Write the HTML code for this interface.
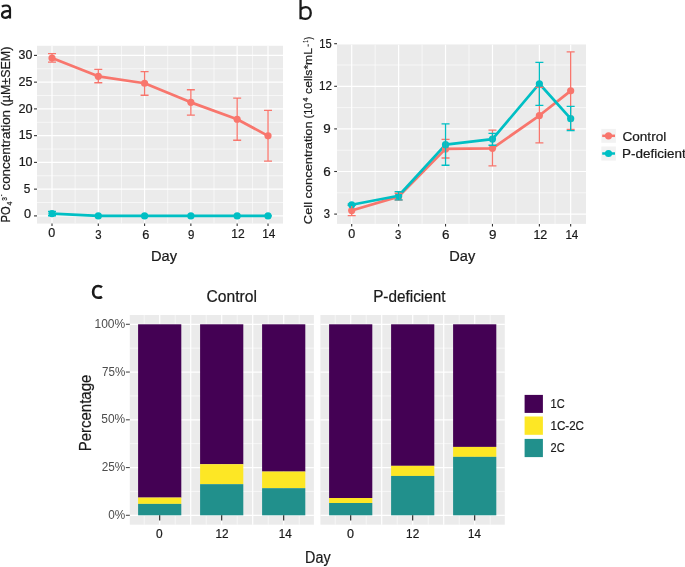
<!DOCTYPE html>
<html><head><meta charset="utf-8"><style>
html,body{margin:0;padding:0;background:#fff;width:685px;height:567px;overflow:hidden;}
svg{display:block;will-change:transform;}
text{font-family:"Liberation Sans", sans-serif;}
</style></head><body>
<svg width="685" height="567" viewBox="0 0 685 567">
<defs>
<clipPath id="ca"><rect x="37" y="45.8" width="246" height="177.8"/></clipPath>
<clipPath id="cb"><rect x="337" y="44.4" width="249" height="179.5"/></clipPath>
</defs>
<rect width="685" height="567" fill="#fff"/>
<rect x="37" y="45.8" width="246" height="177.8" fill="#EBEBEB"/>
<g clip-path="url(#ca)">
<line x1="37" x2="283" y1="202.53" y2="202.53" stroke="#fff" stroke-width="0.6"/>
<line x1="37" x2="283" y1="175.77" y2="175.77" stroke="#fff" stroke-width="0.6"/>
<line x1="37" x2="283" y1="149.03" y2="149.03" stroke="#fff" stroke-width="0.6"/>
<line x1="37" x2="283" y1="122.28" y2="122.28" stroke="#fff" stroke-width="0.6"/>
<line x1="37" x2="283" y1="95.53" y2="95.53" stroke="#fff" stroke-width="0.6"/>
<line x1="37" x2="283" y1="68.78" y2="68.78" stroke="#fff" stroke-width="0.6"/>
<line y1="45.8" y2="223.6" x1="75.14" x2="75.14" stroke="#fff" stroke-width="0.6"/>
<line y1="45.8" y2="223.6" x1="121.44" x2="121.44" stroke="#fff" stroke-width="0.6"/>
<line y1="45.8" y2="223.6" x1="167.72" x2="167.72" stroke="#fff" stroke-width="0.6"/>
<line y1="45.8" y2="223.6" x1="214.01" x2="214.01" stroke="#fff" stroke-width="0.6"/>
<line y1="45.8" y2="223.6" x1="252.59" x2="252.59" stroke="#fff" stroke-width="0.6"/>
<line x1="37" x2="283" y1="215.9" y2="215.9" stroke="#fff" stroke-width="1.2"/>
<line x1="37" x2="283" y1="189.15" y2="189.15" stroke="#fff" stroke-width="1.2"/>
<line x1="37" x2="283" y1="162.4" y2="162.4" stroke="#fff" stroke-width="1.2"/>
<line x1="37" x2="283" y1="135.65" y2="135.65" stroke="#fff" stroke-width="1.2"/>
<line x1="37" x2="283" y1="108.9" y2="108.9" stroke="#fff" stroke-width="1.2"/>
<line x1="37" x2="283" y1="82.15" y2="82.15" stroke="#fff" stroke-width="1.2"/>
<line x1="37" x2="283" y1="55.4" y2="55.4" stroke="#fff" stroke-width="1.2"/>
<line y1="45.8" y2="223.6" x1="52" x2="52" stroke="#fff" stroke-width="1.2"/>
<line y1="45.8" y2="223.6" x1="98.29" x2="98.29" stroke="#fff" stroke-width="1.2"/>
<line y1="45.8" y2="223.6" x1="144.58" x2="144.58" stroke="#fff" stroke-width="1.2"/>
<line y1="45.8" y2="223.6" x1="190.87" x2="190.87" stroke="#fff" stroke-width="1.2"/>
<line y1="45.8" y2="223.6" x1="237.16" x2="237.16" stroke="#fff" stroke-width="1.2"/>
<line y1="45.8" y2="223.6" x1="268.02" x2="268.02" stroke="#fff" stroke-width="1.2"/>
<polyline points="52,58.02 98.29,76.32 144.58,83.27 190.87,102.37 237.16,119.23 268.02,135.86" fill="none" stroke="#F8766D" stroke-width="2.7" stroke-linejoin="round"/><polyline points="52,213.6 98.29,215.9 144.58,215.9 190.87,215.9 237.16,215.9 268.02,215.9" fill="none" stroke="#00BFC4" stroke-width="2.7" stroke-linejoin="round"/><circle cx="52" cy="58.02" r="3.6" fill="#F8766D"/><circle cx="98.29" cy="76.32" r="3.6" fill="#F8766D"/><circle cx="144.58" cy="83.27" r="3.6" fill="#F8766D"/><circle cx="190.87" cy="102.37" r="3.6" fill="#F8766D"/><circle cx="237.16" cy="119.23" r="3.6" fill="#F8766D"/><circle cx="268.02" cy="135.86" r="3.6" fill="#F8766D"/><circle cx="52" cy="213.6" r="3.6" fill="#00BFC4"/><circle cx="98.29" cy="215.9" r="3.6" fill="#00BFC4"/><circle cx="144.58" cy="215.9" r="3.6" fill="#00BFC4"/><circle cx="190.87" cy="215.9" r="3.6" fill="#00BFC4"/><circle cx="237.16" cy="215.9" r="3.6" fill="#00BFC4"/><circle cx="268.02" cy="215.9" r="3.6" fill="#00BFC4"/><path d="M48 53.58H56M52 53.58V62.09M48 62.09H56" stroke="#F8766D" stroke-width="1.3" fill="none"/><path d="M94.29 69.31H102.29M98.29 69.31V82.74M94.29 82.74H102.29" stroke="#F8766D" stroke-width="1.3" fill="none"/><path d="M140.58 71.61H148.58M144.58 71.61V95.26M140.58 95.26H148.58" stroke="#F8766D" stroke-width="1.3" fill="none"/><path d="M186.87 89.75H194.87M190.87 89.75V115.21M186.87 115.21H194.87" stroke="#F8766D" stroke-width="1.3" fill="none"/><path d="M233.16 98.2H241.16M237.16 98.2V140.25M233.16 140.25H241.16" stroke="#F8766D" stroke-width="1.3" fill="none"/><path d="M264.02 110.29H272.02M268.02 110.29V161.22M264.02 161.22H272.02" stroke="#F8766D" stroke-width="1.3" fill="none"/><path d="M48 211.46H56M52 211.46V215.74M48 215.74H56" stroke="#00BFC4" stroke-width="1.3" fill="none"/><path d="M94.29 215.9H102.29M98.29 215.9V215.9M94.29 215.9H102.29" stroke="#00BFC4" stroke-width="1.3" fill="none"/><path d="M140.58 215.9H148.58M144.58 215.9V215.9M140.58 215.9H148.58" stroke="#00BFC4" stroke-width="1.3" fill="none"/><path d="M186.87 215.9H194.87M190.87 215.9V215.9M186.87 215.9H194.87" stroke="#00BFC4" stroke-width="1.3" fill="none"/><path d="M233.16 215.9H241.16M237.16 215.9V215.9M233.16 215.9H241.16" stroke="#00BFC4" stroke-width="1.3" fill="none"/><path d="M264.02 215.9H272.02M268.02 215.9V215.9M264.02 215.9H272.02" stroke="#00BFC4" stroke-width="1.3" fill="none"/>
</g>
<line x1="34" x2="37" y1="215.9" y2="215.9" stroke="#333333" stroke-width="1.1"/>
<line x1="34" x2="37" y1="189.15" y2="189.15" stroke="#333333" stroke-width="1.1"/>
<line x1="34" x2="37" y1="162.4" y2="162.4" stroke="#333333" stroke-width="1.1"/>
<line x1="34" x2="37" y1="135.65" y2="135.65" stroke="#333333" stroke-width="1.1"/>
<line x1="34" x2="37" y1="108.9" y2="108.9" stroke="#333333" stroke-width="1.1"/>
<line x1="34" x2="37" y1="82.15" y2="82.15" stroke="#333333" stroke-width="1.1"/>
<line x1="34" x2="37" y1="55.4" y2="55.4" stroke="#333333" stroke-width="1.1"/>
<line y1="223.6" y2="226" x1="52" x2="52" stroke="#333333" stroke-width="1.1"/>
<line y1="223.6" y2="226" x1="98.29" x2="98.29" stroke="#333333" stroke-width="1.1"/>
<line y1="223.6" y2="226" x1="144.58" x2="144.58" stroke="#333333" stroke-width="1.1"/>
<line y1="223.6" y2="226" x1="190.87" x2="190.87" stroke="#333333" stroke-width="1.1"/>
<line y1="223.6" y2="226" x1="237.16" x2="237.16" stroke="#333333" stroke-width="1.1"/>
<line y1="223.6" y2="226" x1="268.02" x2="268.02" stroke="#333333" stroke-width="1.1"/>
<text x="18.63" y="59.1" font-size="12.3" fill="#1a1a1a" font-weight="normal" textLength="13.75" lengthAdjust="spacingAndGlyphs" stroke="#1a1a1a" stroke-width="0.22">30</text>
<text x="18.47" y="86" font-size="12.3" fill="#1a1a1a" font-weight="normal" textLength="13.96" lengthAdjust="spacingAndGlyphs" stroke="#1a1a1a" stroke-width="0.22">25</text>
<text x="18.46" y="112.6" font-size="12.3" fill="#1a1a1a" font-weight="normal" textLength="14.14" lengthAdjust="spacingAndGlyphs" stroke="#1a1a1a" stroke-width="0.22">20</text>
<text x="18.66" y="139.4" font-size="12.3" fill="#1a1a1a" font-weight="normal" textLength="13.76" lengthAdjust="spacingAndGlyphs" stroke="#1a1a1a" stroke-width="0.22">15</text>
<text x="18.65" y="165.6" font-size="12.3" fill="#1a1a1a" font-weight="normal" textLength="13.94" lengthAdjust="spacingAndGlyphs" stroke="#1a1a1a" stroke-width="0.22">10</text>
<text x="23.83" y="192.7" font-size="12.3" fill="#1a1a1a" font-weight="normal" textLength="6.57" lengthAdjust="spacingAndGlyphs" stroke="#1a1a1a" stroke-width="0.22">5</text>
<text x="23.9" y="218.3" font-size="12.3" fill="#1a1a1a" font-weight="normal" textLength="7.1" lengthAdjust="spacingAndGlyphs" stroke="#1a1a1a" stroke-width="0.22">0</text>
<text x="48.31" y="236.7" font-size="12.3" fill="#1a1a1a" font-weight="normal" textLength="6.98" lengthAdjust="spacingAndGlyphs" stroke="#1a1a1a" stroke-width="0.22">0</text>
<text x="95.17" y="239" font-size="12.3" fill="#1a1a1a" font-weight="normal" textLength="6.33" lengthAdjust="spacingAndGlyphs" stroke="#1a1a1a" stroke-width="0.22">3</text>
<text x="142.35" y="239" font-size="12.3" fill="#1a1a1a" font-weight="normal" textLength="7.11" lengthAdjust="spacingAndGlyphs" stroke="#1a1a1a" stroke-width="0.22">6</text>
<text x="187.96" y="239.1" font-size="12.3" fill="#1a1a1a" font-weight="normal" textLength="6.38" lengthAdjust="spacingAndGlyphs" stroke="#1a1a1a" stroke-width="0.22">9</text>
<text x="231.18" y="237.8" font-size="12.3" fill="#1a1a1a" font-weight="normal" textLength="13.43" lengthAdjust="spacingAndGlyphs" stroke="#1a1a1a" stroke-width="0.22">12</text>
<text x="262.3" y="237.8" font-size="12.3" fill="#1a1a1a" font-weight="normal" textLength="13.15" lengthAdjust="spacingAndGlyphs" stroke="#1a1a1a" stroke-width="0.22">14</text>
<text x="151" y="261" font-size="15.3" fill="#1a1a1a" font-weight="normal" textLength="26.03" lengthAdjust="spacingAndGlyphs" stroke="#1a1a1a" stroke-width="0.22">Day</text>
<path d="M1.9 6.7C3.1 5.8 4.6 5.5 6.2 5.5C8.8 5.5 10 6.8 10 9.2V18.5M10 10.8C6 10.8 2 11.5 2 14.8C2 16.7 3.3 17.8 5.2 17.8C7.3 17.8 9 16.8 10 15.2" fill="none" stroke="#1a1a1a" stroke-width="2.2"/>
<rect x="337" y="44.4" width="249" height="179.5" fill="#EBEBEB"/>
<g clip-path="url(#cb)">
<line x1="337" x2="586" y1="192.8" y2="192.8" stroke="#fff" stroke-width="0.6"/>
<line x1="337" x2="586" y1="150.2" y2="150.2" stroke="#fff" stroke-width="0.6"/>
<line x1="337" x2="586" y1="107.6" y2="107.6" stroke="#fff" stroke-width="0.6"/>
<line x1="337" x2="586" y1="65" y2="65" stroke="#fff" stroke-width="0.6"/>
<line y1="44.4" y2="223.9" x1="375.16" x2="375.16" stroke="#fff" stroke-width="0.6"/>
<line y1="44.4" y2="223.9" x1="422.08" x2="422.08" stroke="#fff" stroke-width="0.6"/>
<line y1="44.4" y2="223.9" x1="469" x2="469" stroke="#fff" stroke-width="0.6"/>
<line y1="44.4" y2="223.9" x1="515.92" x2="515.92" stroke="#fff" stroke-width="0.6"/>
<line y1="44.4" y2="223.9" x1="555.02" x2="555.02" stroke="#fff" stroke-width="0.6"/>
<line x1="337" x2="586" y1="214.1" y2="214.1" stroke="#fff" stroke-width="1.2"/>
<line x1="337" x2="586" y1="171.5" y2="171.5" stroke="#fff" stroke-width="1.2"/>
<line x1="337" x2="586" y1="128.9" y2="128.9" stroke="#fff" stroke-width="1.2"/>
<line x1="337" x2="586" y1="86.3" y2="86.3" stroke="#fff" stroke-width="1.2"/>
<line x1="337" x2="586" y1="43.7" y2="43.7" stroke="#fff" stroke-width="1.2"/>
<line y1="44.4" y2="223.9" x1="351.7" x2="351.7" stroke="#fff" stroke-width="1.2"/>
<line y1="44.4" y2="223.9" x1="398.62" x2="398.62" stroke="#fff" stroke-width="1.2"/>
<line y1="44.4" y2="223.9" x1="445.54" x2="445.54" stroke="#fff" stroke-width="1.2"/>
<line y1="44.4" y2="223.9" x1="492.46" x2="492.46" stroke="#fff" stroke-width="1.2"/>
<line y1="44.4" y2="223.9" x1="539.38" x2="539.38" stroke="#fff" stroke-width="1.2"/>
<line y1="44.4" y2="223.9" x1="570.66" x2="570.66" stroke="#fff" stroke-width="1.2"/>
<polyline points="351.7,210.55 398.62,196.63 445.54,148.92 492.46,148.35 539.38,115.55 570.66,90.84" fill="none" stroke="#F8766D" stroke-width="2.7" stroke-linejoin="round"/><polyline points="351.7,204.73 398.62,195.78 445.54,144.66 492.46,139.12 539.38,83.74 570.66,118.68" fill="none" stroke="#00BFC4" stroke-width="2.7" stroke-linejoin="round"/><circle cx="351.7" cy="210.55" r="3.6" fill="#F8766D"/><circle cx="398.62" cy="196.63" r="3.6" fill="#F8766D"/><circle cx="445.54" cy="148.92" r="3.6" fill="#F8766D"/><circle cx="492.46" cy="148.35" r="3.6" fill="#F8766D"/><circle cx="539.38" cy="115.55" r="3.6" fill="#F8766D"/><circle cx="570.66" cy="90.84" r="3.6" fill="#F8766D"/><circle cx="351.7" cy="204.73" r="3.6" fill="#00BFC4"/><circle cx="398.62" cy="195.78" r="3.6" fill="#00BFC4"/><circle cx="445.54" cy="144.66" r="3.6" fill="#00BFC4"/><circle cx="492.46" cy="139.12" r="3.6" fill="#00BFC4"/><circle cx="539.38" cy="83.74" r="3.6" fill="#00BFC4"/><circle cx="570.66" cy="118.68" r="3.6" fill="#00BFC4"/><path d="M347.7 205.44H355.7M351.7 205.44V215.66M347.7 215.66H355.7" stroke="#F8766D" stroke-width="1.3" fill="none"/><path d="M394.62 193.23H402.62M398.62 193.23V200.04M394.62 200.04H402.62" stroke="#F8766D" stroke-width="1.3" fill="none"/><path d="M441.54 139.41H449.54M445.54 139.41V158.01M441.54 158.01H449.54" stroke="#F8766D" stroke-width="1.3" fill="none"/><path d="M488.46 130.18H496.46M492.46 130.18V165.82M488.46 165.82H496.46" stroke="#F8766D" stroke-width="1.3" fill="none"/><path d="M535.38 87.44H543.38M539.38 87.44V142.96M535.38 142.96H543.38" stroke="#F8766D" stroke-width="1.3" fill="none"/><path d="M566.66 51.79H574.66M570.66 51.79V129.47M566.66 129.47H574.66" stroke="#F8766D" stroke-width="1.3" fill="none"/><path d="M347.7 204.02H355.7M351.7 204.02V205.44M347.7 205.44H355.7" stroke="#00BFC4" stroke-width="1.3" fill="none"/><path d="M394.62 191.66H402.62M398.62 191.66V199.9M394.62 199.9H402.62" stroke="#00BFC4" stroke-width="1.3" fill="none"/><path d="M441.54 123.93H449.54M445.54 123.93V165.25M441.54 165.25H449.54" stroke="#00BFC4" stroke-width="1.3" fill="none"/><path d="M488.46 133.3H496.46M492.46 133.3V145.23M488.46 145.23H496.46" stroke="#00BFC4" stroke-width="1.3" fill="none"/><path d="M535.38 62.44H543.38M539.38 62.44V105.47M535.38 105.47H543.38" stroke="#00BFC4" stroke-width="1.3" fill="none"/><path d="M566.66 106.32H574.66M570.66 106.32V130.6M566.66 130.6H574.66" stroke="#00BFC4" stroke-width="1.3" fill="none"/>
</g>
<line x1="334.2" x2="337" y1="214.1" y2="214.1" stroke="#333333" stroke-width="1.1"/>
<line x1="334.2" x2="337" y1="171.5" y2="171.5" stroke="#333333" stroke-width="1.1"/>
<line x1="334.2" x2="337" y1="128.9" y2="128.9" stroke="#333333" stroke-width="1.1"/>
<line x1="334.2" x2="337" y1="86.3" y2="86.3" stroke="#333333" stroke-width="1.1"/>
<line x1="334.2" x2="337" y1="43.7" y2="43.7" stroke="#333333" stroke-width="1.1"/>
<line y1="223.9" y2="226.5" x1="351.7" x2="351.7" stroke="#333333" stroke-width="1.1"/>
<line y1="223.9" y2="226.5" x1="398.62" x2="398.62" stroke="#333333" stroke-width="1.1"/>
<line y1="223.9" y2="226.5" x1="445.54" x2="445.54" stroke="#333333" stroke-width="1.1"/>
<line y1="223.9" y2="226.5" x1="492.46" x2="492.46" stroke="#333333" stroke-width="1.1"/>
<line y1="223.9" y2="226.5" x1="539.38" x2="539.38" stroke="#333333" stroke-width="1.1"/>
<line y1="223.9" y2="226.5" x1="570.66" x2="570.66" stroke="#333333" stroke-width="1.1"/>
<text x="319.35" y="47.7" font-size="12.3" fill="#1a1a1a" font-weight="normal" textLength="12.42" lengthAdjust="spacingAndGlyphs" stroke="#1a1a1a" stroke-width="0.22">15</text>
<text x="318.91" y="90.2" font-size="12.3" fill="#1a1a1a" font-weight="normal" textLength="12.98" lengthAdjust="spacingAndGlyphs" stroke="#1a1a1a" stroke-width="0.22">12</text>
<text x="323.27" y="133.1" font-size="12.3" fill="#1a1a1a" font-weight="normal" textLength="7.46" lengthAdjust="spacingAndGlyphs" stroke="#1a1a1a" stroke-width="0.22">9</text>
<text x="323.22" y="175.7" font-size="12.3" fill="#1a1a1a" font-weight="normal" textLength="7.47" lengthAdjust="spacingAndGlyphs" stroke="#1a1a1a" stroke-width="0.22">6</text>
<text x="323.87" y="218.3" font-size="12.3" fill="#1a1a1a" font-weight="normal" textLength="6.22" lengthAdjust="spacingAndGlyphs" stroke="#1a1a1a" stroke-width="0.22">3</text>
<text x="348.31" y="238.3" font-size="12.3" fill="#1a1a1a" font-weight="normal" textLength="6.98" lengthAdjust="spacingAndGlyphs" stroke="#1a1a1a" stroke-width="0.22">0</text>
<text x="395.07" y="239.1" font-size="12.3" fill="#1a1a1a" font-weight="normal" textLength="6.33" lengthAdjust="spacingAndGlyphs" stroke="#1a1a1a" stroke-width="0.22">3</text>
<text x="442.02" y="239.1" font-size="12.3" fill="#1a1a1a" font-weight="normal" textLength="7.47" lengthAdjust="spacingAndGlyphs" stroke="#1a1a1a" stroke-width="0.22">6</text>
<text x="489.07" y="238.5" font-size="12.3" fill="#1a1a1a" font-weight="normal" textLength="7.46" lengthAdjust="spacingAndGlyphs" stroke="#1a1a1a" stroke-width="0.22">9</text>
<text x="533.45" y="239.1" font-size="12.3" fill="#1a1a1a" font-weight="normal" textLength="13.88" lengthAdjust="spacingAndGlyphs" stroke="#1a1a1a" stroke-width="0.22">12</text>
<text x="565.41" y="239.1" font-size="12.3" fill="#1a1a1a" font-weight="normal" textLength="12.93" lengthAdjust="spacingAndGlyphs" stroke="#1a1a1a" stroke-width="0.22">14</text>
<text x="449.3" y="261.4" font-size="15.3" fill="#1a1a1a" font-weight="normal" textLength="25.92" lengthAdjust="spacingAndGlyphs" stroke="#1a1a1a" stroke-width="0.22">Day</text>
<path d="M300.55 -1V19.3M300.6 9.6C301.9 7.9 303.7 7.1 305.7 7.1C308.8 7.1 310.75 9.6 310.75 12.9C310.75 16.6 308.5 18.95 305.4 18.95C303.5 18.95 301.8 18.3 300.6 17" fill="none" stroke="#1a1a1a" stroke-width="2.3"/>
<rect x="601.3" y="128.9" width="14.6" height="13.9" fill="#F2F2F2"/>
<rect x="601.3" y="146.5" width="14.6" height="14.1" fill="#F2F2F2"/>
<line x1="602.2" x2="615" y1="135.8" y2="135.8" stroke="#F8766D" stroke-width="2.5"/><circle cx="608.5" cy="135.8" r="3.6" fill="#F8766D"/>
<line x1="602.2" x2="615" y1="153.5" y2="153.5" stroke="#00BFC4" stroke-width="2.5"/><circle cx="608.5" cy="153.5" r="3.6" fill="#00BFC4"/>
<text x="622.51" y="140.9" font-size="13.2" fill="#1a1a1a" font-weight="normal" textLength="43.7" lengthAdjust="spacingAndGlyphs" stroke="#1a1a1a" stroke-width="0.22">Control</text>
<text x="622.1" y="157.9" font-size="13.2" fill="#1a1a1a" font-weight="normal" textLength="63.6" lengthAdjust="spacingAndGlyphs" stroke="#1a1a1a" stroke-width="0.22">P-deficient</text>
<rect x="129.8" y="315" width="184.1" height="209.7" fill="#EBEBEB"/>
<line x1="129.8" x2="313.9" y1="491.42" y2="491.42" stroke="#fff" stroke-width="0.6"/>
<line x1="129.8" x2="313.9" y1="443.67" y2="443.67" stroke="#fff" stroke-width="0.6"/>
<line x1="129.8" x2="313.9" y1="395.92" y2="395.92" stroke="#fff" stroke-width="0.6"/>
<line x1="129.8" x2="313.9" y1="348.17" y2="348.17" stroke="#fff" stroke-width="0.6"/>
<line y1="315" y2="524.7" x1="144.2" x2="144.2" stroke="#fff" stroke-width="0.6"/>
<line y1="315" y2="524.7" x1="159.7" x2="159.7" stroke="#fff" stroke-width="1.2"/>
<line y1="315" y2="524.7" x1="175.2" x2="175.2" stroke="#fff" stroke-width="0.6"/>
<line y1="315" y2="524.7" x1="190.7" x2="190.7" stroke="#fff" stroke-width="1.2"/>
<line y1="315" y2="524.7" x1="206.2" x2="206.2" stroke="#fff" stroke-width="0.6"/>
<line y1="315" y2="524.7" x1="221.7" x2="221.7" stroke="#fff" stroke-width="1.2"/>
<line y1="315" y2="524.7" x1="237.2" x2="237.2" stroke="#fff" stroke-width="0.6"/>
<line y1="315" y2="524.7" x1="252.7" x2="252.7" stroke="#fff" stroke-width="1.2"/>
<line y1="315" y2="524.7" x1="268.2" x2="268.2" stroke="#fff" stroke-width="0.6"/>
<line y1="315" y2="524.7" x1="283.7" x2="283.7" stroke="#fff" stroke-width="1.2"/>
<line y1="315" y2="524.7" x1="299.2" x2="299.2" stroke="#fff" stroke-width="0.6"/>
<line x1="129.8" x2="313.9" y1="515.3" y2="515.3" stroke="#fff" stroke-width="1.2"/>
<line x1="129.8" x2="313.9" y1="467.55" y2="467.55" stroke="#fff" stroke-width="1.2"/>
<line x1="129.8" x2="313.9" y1="419.8" y2="419.8" stroke="#fff" stroke-width="1.2"/>
<line x1="129.8" x2="313.9" y1="372.05" y2="372.05" stroke="#fff" stroke-width="1.2"/>
<line x1="129.8" x2="313.9" y1="324.3" y2="324.3" stroke="#fff" stroke-width="1.2"/>
<rect x="138.1" y="324.3" width="43.2" height="173.29" fill="#440154"/>
<rect x="138.1" y="497.59" width="43.2" height="6.3" fill="#FDE725"/>
<rect x="138.1" y="503.9" width="43.2" height="11.4" fill="#21908C"/>
<line x1="159.7" x2="159.7" y1="515.3" y2="520.4" stroke="#1a1a1a" stroke-width="1.1"/>
<rect x="200.1" y="324.3" width="43.2" height="139.91" fill="#440154"/>
<rect x="200.1" y="464.21" width="43.2" height="19.96" fill="#FDE725"/>
<rect x="200.1" y="484.17" width="43.2" height="31.13" fill="#21908C"/>
<line x1="221.7" x2="221.7" y1="515.3" y2="520.4" stroke="#1a1a1a" stroke-width="1.1"/>
<rect x="262.1" y="324.3" width="43.2" height="147.26" fill="#440154"/>
<rect x="262.1" y="471.56" width="43.2" height="16.62" fill="#FDE725"/>
<rect x="262.1" y="488.18" width="43.2" height="27.12" fill="#21908C"/>
<line x1="283.7" x2="283.7" y1="515.3" y2="520.4" stroke="#1a1a1a" stroke-width="1.1"/>
<rect x="320.4" y="315" width="184.4" height="209.7" fill="#EBEBEB"/>
<line x1="320.4" x2="504.8" y1="491.42" y2="491.42" stroke="#fff" stroke-width="0.6"/>
<line x1="320.4" x2="504.8" y1="443.67" y2="443.67" stroke="#fff" stroke-width="0.6"/>
<line x1="320.4" x2="504.8" y1="395.92" y2="395.92" stroke="#fff" stroke-width="0.6"/>
<line x1="320.4" x2="504.8" y1="348.17" y2="348.17" stroke="#fff" stroke-width="0.6"/>
<line y1="315" y2="524.7" x1="335.2" x2="335.2" stroke="#fff" stroke-width="0.6"/>
<line y1="315" y2="524.7" x1="350.7" x2="350.7" stroke="#fff" stroke-width="1.2"/>
<line y1="315" y2="524.7" x1="366.2" x2="366.2" stroke="#fff" stroke-width="0.6"/>
<line y1="315" y2="524.7" x1="381.7" x2="381.7" stroke="#fff" stroke-width="1.2"/>
<line y1="315" y2="524.7" x1="397.2" x2="397.2" stroke="#fff" stroke-width="0.6"/>
<line y1="315" y2="524.7" x1="412.7" x2="412.7" stroke="#fff" stroke-width="1.2"/>
<line y1="315" y2="524.7" x1="428.2" x2="428.2" stroke="#fff" stroke-width="0.6"/>
<line y1="315" y2="524.7" x1="443.7" x2="443.7" stroke="#fff" stroke-width="1.2"/>
<line y1="315" y2="524.7" x1="459.2" x2="459.2" stroke="#fff" stroke-width="0.6"/>
<line y1="315" y2="524.7" x1="474.7" x2="474.7" stroke="#fff" stroke-width="1.2"/>
<line y1="315" y2="524.7" x1="490.2" x2="490.2" stroke="#fff" stroke-width="0.6"/>
<line x1="320.4" x2="504.8" y1="515.3" y2="515.3" stroke="#fff" stroke-width="1.2"/>
<line x1="320.4" x2="504.8" y1="467.55" y2="467.55" stroke="#fff" stroke-width="1.2"/>
<line x1="320.4" x2="504.8" y1="419.8" y2="419.8" stroke="#fff" stroke-width="1.2"/>
<line x1="320.4" x2="504.8" y1="372.05" y2="372.05" stroke="#fff" stroke-width="1.2"/>
<line x1="320.4" x2="504.8" y1="324.3" y2="324.3" stroke="#fff" stroke-width="1.2"/>
<rect x="329.1" y="324.3" width="43.2" height="173.7" fill="#440154"/>
<rect x="329.1" y="498" width="43.2" height="5" fill="#FDE725"/>
<rect x="329.1" y="503" width="43.2" height="12.3" fill="#21908C"/>
<line x1="350.7" x2="350.7" y1="515.3" y2="520.4" stroke="#1a1a1a" stroke-width="1.1"/>
<rect x="391.1" y="324.3" width="43.2" height="141.53" fill="#440154"/>
<rect x="391.1" y="465.83" width="43.2" height="10.12" fill="#FDE725"/>
<rect x="391.1" y="475.95" width="43.2" height="39.35" fill="#21908C"/>
<line x1="412.7" x2="412.7" y1="515.3" y2="520.4" stroke="#1a1a1a" stroke-width="1.1"/>
<rect x="453.1" y="324.3" width="43.2" height="122.62" fill="#440154"/>
<rect x="453.1" y="446.92" width="43.2" height="9.93" fill="#FDE725"/>
<rect x="453.1" y="456.85" width="43.2" height="58.45" fill="#21908C"/>
<line x1="474.7" x2="474.7" y1="515.3" y2="520.4" stroke="#1a1a1a" stroke-width="1.1"/>
<line x1="125.9" x2="129.8" y1="515.3" y2="515.3" stroke="#4d4d4d" stroke-width="1.1"/>
<line x1="125.9" x2="129.8" y1="467.55" y2="467.55" stroke="#4d4d4d" stroke-width="1.1"/>
<line x1="125.9" x2="129.8" y1="419.8" y2="419.8" stroke="#4d4d4d" stroke-width="1.1"/>
<line x1="125.9" x2="129.8" y1="372.05" y2="372.05" stroke="#4d4d4d" stroke-width="1.1"/>
<line x1="125.9" x2="129.8" y1="324.3" y2="324.3" stroke="#4d4d4d" stroke-width="1.1"/>
<text x="94.48" y="327.6" font-size="12.3" fill="#4d4d4d" font-weight="normal" textLength="30.74" lengthAdjust="spacingAndGlyphs" stroke="#4d4d4d" stroke-width="0">100%</text>
<text x="102.01" y="376.3" font-size="12.3" fill="#4d4d4d" font-weight="normal" textLength="23.21" lengthAdjust="spacingAndGlyphs" stroke="#4d4d4d" stroke-width="0">75%</text>
<text x="101.32" y="422.9" font-size="12.3" fill="#4d4d4d" font-weight="normal" textLength="23.9" lengthAdjust="spacingAndGlyphs" stroke="#4d4d4d" stroke-width="0">50%</text>
<text x="101.71" y="471.3" font-size="12.3" fill="#4d4d4d" font-weight="normal" textLength="23.51" lengthAdjust="spacingAndGlyphs" stroke="#4d4d4d" stroke-width="0">25%</text>
<text x="108.24" y="519" font-size="12.3" fill="#4d4d4d" font-weight="normal" textLength="16.98" lengthAdjust="spacingAndGlyphs" stroke="#4d4d4d" stroke-width="0">0%</text>
<text x="156.03" y="537.6" font-size="12.3" fill="#1a1a1a" font-weight="normal" textLength="6.63" lengthAdjust="spacingAndGlyphs" stroke="#1a1a1a" stroke-width="0.22">0</text>
<text x="215.4" y="537.6" font-size="12.3" fill="#1a1a1a" font-weight="normal" textLength="13.09" lengthAdjust="spacingAndGlyphs" stroke="#1a1a1a" stroke-width="0.22">12</text>
<text x="278.71" y="537.6" font-size="12.3" fill="#1a1a1a" font-weight="normal" textLength="12.93" lengthAdjust="spacingAndGlyphs" stroke="#1a1a1a" stroke-width="0.22">14</text>
<text x="347.11" y="537.6" font-size="12.3" fill="#1a1a1a" font-weight="normal" textLength="6.98" lengthAdjust="spacingAndGlyphs" stroke="#1a1a1a" stroke-width="0.22">0</text>
<text x="406.1" y="537.6" font-size="12.3" fill="#1a1a1a" font-weight="normal" textLength="13.09" lengthAdjust="spacingAndGlyphs" stroke="#1a1a1a" stroke-width="0.22">12</text>
<text x="468.12" y="537.6" font-size="12.3" fill="#1a1a1a" font-weight="normal" textLength="12.82" lengthAdjust="spacingAndGlyphs" stroke="#1a1a1a" stroke-width="0.22">14</text>
<text x="305.12" y="563" font-size="15.6" fill="#1a1a1a" font-weight="normal" textLength="25.5" lengthAdjust="spacingAndGlyphs" stroke="#1a1a1a" stroke-width="0.22">Day</text>
<text transform="rotate(-90)" x="-451.23" y="90.6" font-size="16.5" fill="#1a1a1a" stroke="#1a1a1a" stroke-width="0.22" textLength="76.49" lengthAdjust="spacingAndGlyphs">Percentage</text>
<text x="206.51" y="302" font-size="16.3" fill="#1a1a1a" font-weight="normal" textLength="50.44" lengthAdjust="spacingAndGlyphs" stroke="#1a1a1a" stroke-width="0.22">Control</text>
<text x="373.14" y="301.8" font-size="16.3" fill="#1a1a1a" font-weight="normal" textLength="72.37" lengthAdjust="spacingAndGlyphs" stroke="#1a1a1a" stroke-width="0.22">P-deficient</text>
<path d="M102 287.2C100.8 286.2 99.4 286 98.1 286C95.2 286 93.1 288.4 93.1 292C93.1 295.6 95.2 297.8 98.1 297.8C99.4 297.8 100.8 297.6 102 296.8" fill="none" stroke="#1a1a1a" stroke-width="2.6"/>
<rect x="524.6" y="394.9" width="18.3" height="18" fill="#440154"/>
<rect x="524.6" y="416.5" width="18.3" height="18.3" fill="#FDE725"/>
<rect x="524.6" y="438.9" width="18.3" height="18.2" fill="#21908C"/>
<text x="550.56" y="407.6" font-size="13" fill="#1a1a1a" font-weight="normal" textLength="14.06" lengthAdjust="spacingAndGlyphs" stroke="#1a1a1a" stroke-width="0.22">1C</text>
<text x="550.52" y="429.5" font-size="13" fill="#1a1a1a" font-weight="normal" textLength="33.42" lengthAdjust="spacingAndGlyphs" stroke="#1a1a1a" stroke-width="0.22">1C-2C</text>
<text x="550.55" y="452.4" font-size="13" fill="#1a1a1a" font-weight="normal" textLength="14.07" lengthAdjust="spacingAndGlyphs" stroke="#1a1a1a" stroke-width="0.22">2C</text>
<text transform="rotate(-90)" x="-222.52" y="9.9" font-size="12.4" fill="#1a1a1a" stroke="#1a1a1a" stroke-width="0.22" textLength="16.15" lengthAdjust="spacingAndGlyphs">PO</text>
<text transform="rotate(-90)" x="-205.56" y="11.6" font-size="6.4" fill="#1a1a1a" stroke="#1a1a1a" stroke-width="0.22" textLength="3.97" lengthAdjust="spacingAndGlyphs">4</text>
<text transform="rotate(-90)" x="-200.85" y="6.5" font-size="7.3" fill="#1a1a1a" stroke="#1a1a1a" stroke-width="0.22" textLength="3.64" lengthAdjust="spacingAndGlyphs">3</text>
<line x1="1.6" x2="1.6" y1="194.6" y2="196.1" stroke="#1a1a1a" stroke-width="0.9"/>
<text transform="rotate(-90)" x="-190.57" y="9.9" font-size="12.4" fill="#1a1a1a" stroke="#1a1a1a" stroke-width="0.22" textLength="80.64" lengthAdjust="spacingAndGlyphs">concentration</text>
<text transform="rotate(-90)" x="-106.37" y="9.9" font-size="12.4" fill="#1a1a1a" stroke="#1a1a1a" stroke-width="0.22" textLength="59.75" lengthAdjust="spacingAndGlyphs">(µM±SEM)</text>
<text transform="rotate(-90)" x="-224.15" y="312" font-size="11.8" fill="#1a1a1a" stroke="#1a1a1a" stroke-width="0.22" textLength="102.79" lengthAdjust="spacingAndGlyphs">Cell concentration</text>
<text transform="rotate(-90)" x="-118.47" y="312" font-size="11.8" fill="#1a1a1a" stroke="#1a1a1a" stroke-width="0.22" textLength="15.7" lengthAdjust="spacingAndGlyphs">(10</text>
<text transform="rotate(-90)" x="-101.77" y="307.8" font-size="6.54" fill="#1a1a1a" stroke="#1a1a1a" stroke-width="0.22" textLength="4.19" lengthAdjust="spacingAndGlyphs">4</text>
<text transform="rotate(-90)" x="-93.92" y="312" font-size="11.8" fill="#1a1a1a" stroke="#1a1a1a" stroke-width="0.22" textLength="45.92" lengthAdjust="spacingAndGlyphs">cells*mL</text>
<line x1="308.2" x2="308.2" y1="44.2" y2="46.6" stroke="#1a1a1a" stroke-width="0.9"/>
<text transform="rotate(-90)" x="-42.6" y="307.8" font-size="6.4" fill="#1a1a1a" stroke="#1a1a1a" stroke-width="0.22" textLength="2.19" lengthAdjust="spacingAndGlyphs">1</text>
<text transform="rotate(-90)" x="-39.45" y="312" font-size="11.8" fill="#1a1a1a" stroke="#1a1a1a" stroke-width="0.22" textLength="2.64" lengthAdjust="spacingAndGlyphs">)</text>
</svg>
</body></html>
